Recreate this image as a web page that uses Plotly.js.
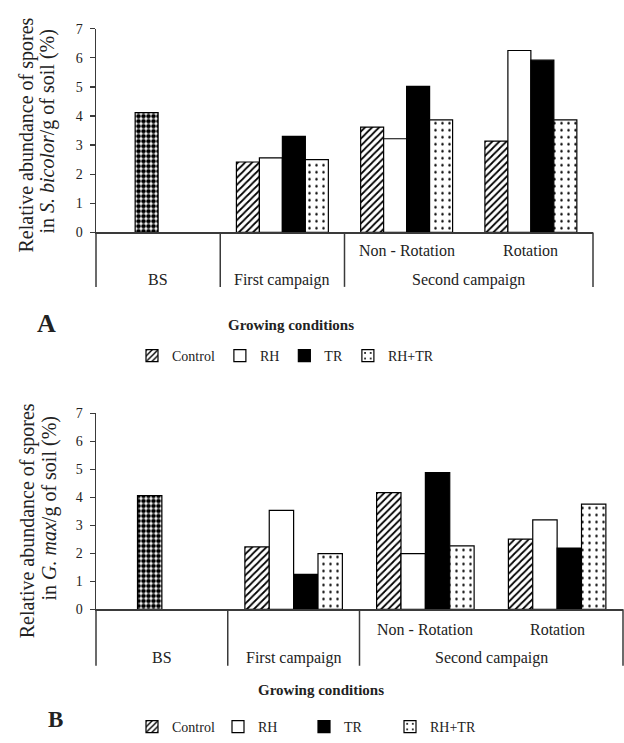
<!DOCTYPE html>
<html>
<head>
<meta charset="utf-8">
<script src="https://cdn.plot.ly/plotly-3.0.1.min.js"></script>
<style>html,body{margin:0;padding:0;background:#fff;}#chart{width:624px;height:743px;}</style>
</head>
<body>
<div id="chart"></div>
<script>
// ---------- data ----------
const categories = ['BS', 'First campaign', 'Non - Rotation', 'Rotation'];
const treatCats = ['First campaign', 'Non - Rotation', 'Rotation'];
const seriesNames = ['Control', 'RH', 'TR', 'RH+TR'];

// Panel A: S. bicolor
const bsA = [4.12];
const controlA = [2.42, 3.62, 3.14];
const rhA = [2.56, 3.22, 6.25];
const trA = [3.30, 5.02, 5.92];
const rhtrA = [2.50, 3.87, 3.87];

// Panel B: G. max
const bsB = [4.07];
const controlB = [2.23, 4.17, 2.51];
const rhB = [3.54, 1.99, 3.20];
const trB = [1.25, 4.89, 2.19];
const rhtrB = [1.99, 2.27, 3.76];

const yTicks = [0, 1, 2, 3, 4, 5, 6, 7];

// ---------- styling ----------
const W = 624, H = 743;
const px = x => x / W;
const py = y => 1 - y / H;
const SERIF = 'Liberation Serif, Times New Roman, serif';
const AX = '#3a3a3a';
const BW = 0.185;
const offsets = [-2 * BW, -BW, 0, BW];
const lineStyle = {color: '#000', width: 1.2};
const fills = [
  {color: '#fff', pattern: {shape: '/', size: 5, solidity: 0.35, fgcolor: '#000', bgcolor: '#fff'}},
  {color: '#fff'},
  {color: '#000'},
  {color: '#fff', pattern: {shape: '.', size: 7, solidity: 0.1, fgcolor: '#000', bgcolor: '#fff'}}
];
const bsFill = {color: '#fff', pattern: {shape: '.', size: 5, solidity: 0.65, fgcolor: '#000', bgcolor: '#fff'}};

function panelTraces(bs, series, xa, ya, legendId) {
  const tr = [];
  tr.push({
    type: 'bar', x: ['BS'], y: bs, xaxis: xa, yaxis: ya, showlegend: false,
    width: BW, offset: -BW, hoverinfo: 'skip',
    marker: Object.assign({}, bsFill, {line: lineStyle})
  });
  series.forEach((vals, i) => {
    tr.push({
      type: 'bar', name: seriesNames[i], x: treatCats, y: vals, xaxis: xa, yaxis: ya,
      legend: legendId, width: BW, offset: offsets[i], hoverinfo: 'skip',
      marker: Object.assign({}, fills[i], {line: lineStyle})
    });
  });
  return tr;
}

const data = [].concat(
  panelTraces(bsA, [controlA, rhA, trA, rhtrA], 'x', 'y', 'legend'),
  panelTraces(bsB, [controlB, rhB, trB, rhtrB], 'x2', 'y2', 'legend2')
);

function xaxisDef(domain, anchor) {
  return {
    domain: domain, anchor: anchor, type: 'category', categoryorder: 'array', categoryarray: categories,
    range: [-0.5, 3.5], showticklabels: false, ticks: '', showgrid: false, zeroline: false,
    showline: true, linecolor: AX, linewidth: 1.5, fixedrange: true
  };
}
function yaxisDef(domain, anchor) {
  return {
    domain: domain, anchor: anchor, range: [0, 7], tickvals: yTicks, ticks: 'outside', ticklen: 5,
    tickcolor: AX, tickwidth: 1.3, showline: true, linecolor: AX, linewidth: 1.5, showgrid: false,
    zeroline: false, tickfont: {family: SERIF, size: 14, color: '#222'}, fixedrange: true, ticklabelstandoff: 4
  };
}

// panel geometry (pixels)
const A = {x0: 96, x1: 593, yTop: 29, y0: 235, yBot: 290, rowInner: 253, rowOuter: 283};
const B = {x0: 96, x1: 623, yTop: 418, y0: 616, yBot: 673, rowInner: 636, rowOuter: 665};

function panelShapes(g, xa) {
  const xr = xa, xd = xa + ' domain';
  const l = {color: AX, width: 1.5};
  return [
    {type: 'line', xref: xd, yref: 'paper', x0: 0, x1: 0, y0: py(g.y0), y1: py(g.yBot), line: l},
    {type: 'line', xref: xr, yref: 'paper', x0: 0.5, x1: 0.5, y0: py(g.y0), y1: py(g.yBot), line: l},
    {type: 'line', xref: xr, yref: 'paper', x0: 1.5, x1: 1.5, y0: py(g.y0), y1: py(g.yBot), line: l},
    {type: 'line', xref: xd, yref: 'paper', x0: 1, x1: 1, y0: py(g.y0), y1: py(g.yBot), line: l}
  ];
}
function panelLabels(g, xa) {
  const f = {family: SERIF, size: 16, color: '#222'};
  const mk = (x, y, t) => ({xref: xa, yref: 'paper', x: x, y: py(y), text: t, showarrow: false,
    xanchor: 'center', yanchor: 'middle', font: f});
  return [
    mk(0, g.rowOuter, 'BS'),
    mk(1, g.rowOuter, 'First campaign'),
    mk(2, g.rowInner, 'Non - Rotation'),
    mk(3, g.rowInner, 'Rotation'),
    mk(2.5, g.rowOuter, 'Second campaign')
  ];
}
function freeText(x, y, t, size, bold, angle) {
  return {xref: 'paper', yref: 'paper', x: px(x), y: py(y), text: bold ? '<b>' + t + '</b>' : t,
    showarrow: false, xanchor: 'center', yanchor: 'middle', textangle: angle || 0,
    font: {family: SERIF, size: size, color: '#222'}};
}

const layout = {
  width: W, height: H, margin: {l: 0, r: 0, t: 0, b: 0},
  paper_bgcolor: '#fff', plot_bgcolor: 'rgba(0,0,0,0)',
  barmode: 'overlay', showlegend: true,
  xaxis: xaxisDef([px(A.x0), px(A.x1)], 'y'),
  yaxis: yaxisDef([py(A.y0), py(A.yTop)], 'x'),
  xaxis2: xaxisDef([px(B.x0), px(B.x1)], 'y2'),
  yaxis2: yaxisDef([py(B.y0), py(B.yTop)], 'x2'),
  legend: {orientation: 'h', x: px(132), y: py(360), xanchor: 'left', yanchor: 'middle',
    font: {family: SERIF, size: 14, color: '#222'}, bgcolor: 'rgba(0,0,0,0)', traceorder: 'normal'},
  legend2: {orientation: 'h', x: px(132), y: py(735), xanchor: 'left', yanchor: 'middle',
    entrywidth: 41, entrywidthmode: 'pixels',
    font: {family: SERIF, size: 14, color: '#222'}, bgcolor: 'rgba(0,0,0,0)', traceorder: 'normal'},
  shapes: [].concat(panelShapes(A, 'x'), panelShapes(B, 'x2')),
  annotations: [].concat(
    panelLabels(A, 'x'), panelLabels(B, 'x2'),
    [
      freeText(27, 137, 'Relative abundance of spores', 20, false, -90),
      freeText(48, 133, 'in <i>S. bicolor</i>/g of soil (%)', 20, false, -90),
      freeText(27, 527, 'Relative abundance of spores', 20, false, -90),
      freeText(49, 514, 'in <i>G. max</i>/g of soil (%)', 20, false, -90),
      freeText(291, 329, 'Growing conditions', 15, true),
      freeText(321, 698, 'Growing conditions', 15, true),
      freeText(46, 327, 'A', 26, true),
      freeText(55, 727, 'B', 23, true)
    ]
  )
};

Plotly.newPlot('chart', data, layout, {displayModeBar: false, staticPlot: true});
</script>
</body>
</html>
